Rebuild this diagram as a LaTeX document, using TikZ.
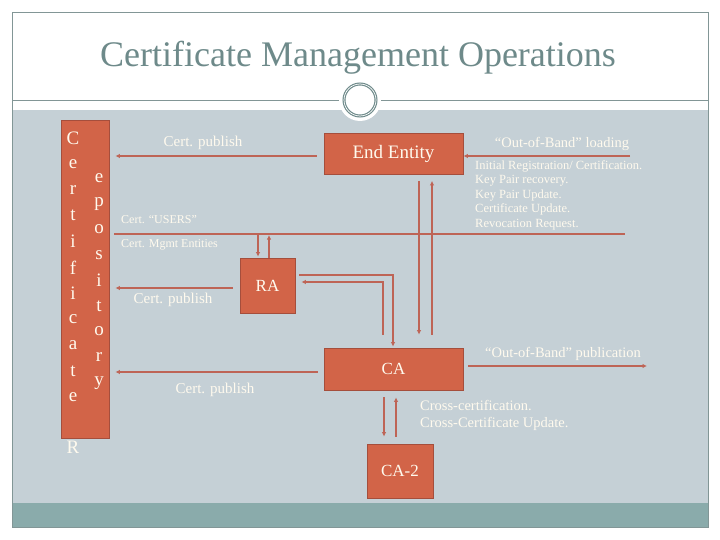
\documentclass[tikz,border=0pt]{standalone}
\usepackage{fontspec}
\setmainfont{Liberation Serif}
\usetikzlibrary{arrows.meta,calc}
\definecolor{bgc}{RGB}{197,208,214}
\definecolor{bandc}{RGB}{138,171,171}
\definecolor{framec}{RGB}{130,150,150}
\definecolor{titlec}{RGB}{110,138,138}
\definecolor{boxc}{RGB}{210,100,72}
\definecolor{boxd}{RGB}{165,78,60}
\definecolor{linec}{RGB}{190,100,86}
\definecolor{txtc}{RGB}{255,250,238}
\begin{document}
\begin{tikzpicture}[x=1pt,y=-1pt,
  box/.style={draw=boxd,line width=0.8pt,fill=boxc,text=txtc,inner sep=0pt},
  conn/.style={draw=linec,line width=2pt},
  arr/.style={conn,-{Latex[length=4.5pt,width=4.5pt]}},
  lbl/.style={text=txtc,inner sep=0pt},
  letter/.style={text=txtc,inner sep=0pt,font=\fontsize{19}{19}\selectfont}]
\useasboundingbox (0,0) rectangle (720,540);
\fill[white] (0,0) rectangle (720,540);
\fill[bgc] (12,110) rectangle (708,503);
\fill[bandc] (12,503) rectangle (708,527);
\draw[framec,line width=0.8pt] (12,12) rectangle (708,527);
\draw[framec,line width=0.8pt] (12,100) -- (708,100);
\fill[white] (360,100) circle (21);
\draw[titlec,line width=3pt] (360,100) circle (16);
\draw[white,line width=0.7pt] (360,100) circle (16);
\node[text=titlec,anchor=base,inner sep=0pt,font=\fontsize{36}{36}\selectfont] (title) at (358,67) {Certificate Management Operations};

% boxes
\node[box,minimum width=48pt,minimum height=318pt] (repo) at (85,279) {};
\node[box,minimum width=139pt,minimum height=41pt,font=\fontsize{19}{19}\selectfont] (EE) at (393.5,154) {End Entity};
\node[box,minimum width=139pt,minimum height=42pt,font=\fontsize{17}{17}\selectfont] (CA) at (393.5,369) {CA};
\node[box,minimum width=55pt,minimum height=55pt,font=\fontsize{17}{17}\selectfont] (RA) at (267.5,285.5) {RA};
\node[box,minimum width=66pt,minimum height=54pt,font=\fontsize{17}{17}\selectfont] (CA2) at (400,471) {CA-2};

% repository letters
\foreach \c [count=\i from 0] in {C,e,r,t,i,f,i,c,a,t,e}
  \node[letter] (l1-\i) at (73,138+25.9*\i) {\c};
\foreach \c [count=\i from 0] in {e,p,o,s,i,t,o,r,y}
  \node[letter] (l2-\i) at (99,178+25.6*\i) {\c};
\node[letter] (lR) at (73,447) {R};

% coordinates
\coordinate (usersL) at (114,234);
\coordinate (usersR) at (625,234);
\coordinate (oobL) at (630,156);
\coordinate (oobP) at (647,366);

% connectors
\draw[arr] ($(EE.west)+(-7,2)$) -- ($(repo.east |- EE.west)+(6,2)$);
\draw[conn] (usersL) -- (usersR);
\draw[arr] ($(EE.south)+(25.5,6)$) -- ($(CA.north)+(25.5,-13)$);
\draw[arr] ($(CA.north)+(38.5,-13)$) -- ($(EE.south)+(38.5,6)$);
\draw[arr] ($(RA.north |- usersL)+(-9.5,1)$) -- ($(RA.north)+(-9.5,-1)$);
\draw[arr] ($(RA.north)+(1.5,0)$) -- ($(RA.north |- usersL)+(1.5,1)$);
\draw[arr] ($(RA.east)+(4,-10.5)$) -| ($(CA.north)+(-0.5,-1)$);
\draw[arr] ($(CA.north)+(-10.5,-13)$) |- ($(RA.east)+(6,-3.5)$);
\draw[arr] ($(RA.west)+(-7,2.5)$) -- ($(repo.east |- RA.west)+(6,2.5)$);
\draw[arr] ($(CA.west)+(-6,3)$) -- ($(repo.east |- CA.west)+(6,3)$);
\draw[arr] (oobL) -- ($(EE.east)+(0,2)$);
\draw[arr] ($(CA.east)+(5,-3)$) -- (oobP);
\draw[arr] ($(CA.south)+(-9.5,7)$) -- ($(CA2.north)+(-16,-7)$);
\draw[arr] ($(CA2.north)+(-4,-7)$) -- ($(CA.south)+(2.5,7)$);

% labels
\node[lbl,font=\fontsize{15}{15}\selectfont] (t1) at (203,143) {Cert. publish};
\node[lbl,anchor=west,font=\fontsize{12}{12}\selectfont] (t2) at (121,220) {Cert. “USERS”};
\node[lbl,anchor=west,font=\fontsize{12}{12}\selectfont] (t3) at (121,245) {Cert. Mgmt Entities};
\node[lbl,font=\fontsize{15}{15}\selectfont] (t4) at (173,300) {Cert. publish};
\node[lbl,font=\fontsize{15}{15}\selectfont] (t5) at (215,390) {Cert. publish};
\node[lbl,font=\fontsize{14.5}{14.5}\selectfont] (t6) at (562,144) {“Out-of-Band” loading};
\node[lbl,font=\fontsize{14.5}{14.5}\selectfont] (t7) at (563,354) {“Out-of-Band” publication};
\node[lbl,anchor=north west,align=left,font=\fontsize{12.5}{14.5}\selectfont] (t8) at (475,160)
  {Initial Registration/ Certification.\\Key Pair recovery.\\Key Pair Update.\\Certificate Update.\\Revocation Request.};
\node[lbl,anchor=north west,align=left,font=\fontsize{14.5}{17}\selectfont] (t9) at (420,400)
  {Cross-certification.\\Cross-Certificate Update.};
\end{tikzpicture}
\end{document}
